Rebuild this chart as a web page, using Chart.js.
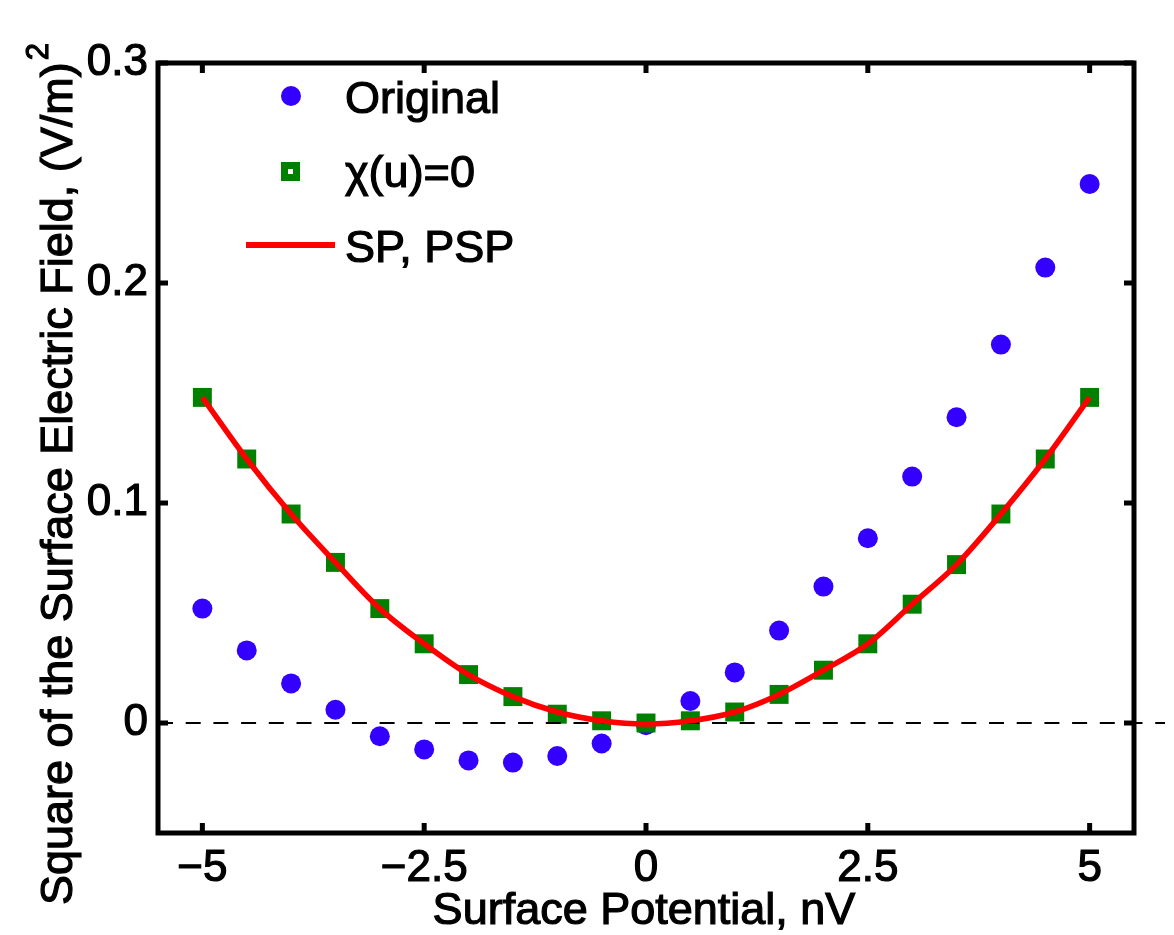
<!DOCTYPE html>
<html>
<head>
<meta charset="utf-8">
<script src="https://cdn.jsdelivr.net/npm/chart.js@4.4.0/dist/chart.umd.min.js"></script>
<style>
  body { margin: 0; background: #fff; }
  #wrap { width: 1174px; height: 935px; }
</style>
</head>
<body>
<div id="wrap"><canvas id="plot" width="1174" height="935"></canvas></div>
<script>
// surface potential (nV)
const potential = [-5, -4.5, -4, -3.5, -3, -2.5, -2, -1.5, -1, -0.5, 0, 0.5, 1, 1.5, 2, 2.5, 3, 3.5, 4, 4.5, 5];
// square of the surface electric field
const original = [0.052, 0.033, 0.018, 0.006, -0.006, -0.012, -0.017, -0.018, -0.015, -0.0093, -0.001, 0.010, 0.023, 0.042, 0.062, 0.084, 0.112, 0.139, 0.172, 0.207, 0.245];
const chiZero = [0.148, 0.120, 0.095, 0.073, 0.052, 0.036, 0.022, 0.012, 0.004, 0.001, 0, 0.001, 0.005, 0.013, 0.024, 0.036, 0.054, 0.072, 0.095, 0.120, 0.148];
const spPsp = [0.148, 0.120, 0.095, 0.073, 0.052, 0.036, 0.022, 0.012, 0.005, 0.001, -0.0005, 0.001, 0.005, 0.013, 0.024, 0.036, 0.054, 0.072, 0.095, 0.120, 0.148];
const zeroLineX = [-5.5, 5.85];

const xTicks = [-5, -2.5, 0, 2.5, 5];
const yTicks = [0, 0.1, 0.2, 0.3];
const legendNames = ["Original", "\u03c7(u)=0", "SP, PSP"];
const xTitle = "Surface Potential, nV";
const yTitle = "Square of the Surface Electric Field, (V/m)";

const FONT = "'Liberation Sans', Arial, Helvetica, sans-serif";
const BLUE = "#3300ff";
const GREEN = "#008000";
const RED = "#ff0000";

const pts = (ys) => potential.map((x, i) => ({ x: x, y: ys[i] }));

function heavyText(ctx, s, x, y) {
  ctx.strokeText(s, x, y);
  ctx.fillText(s, x, y);
}

// box, inward ticks, legend and axis titles
const decor = {
  id: "decor",
  afterDraw(chart) {
    const ctx = chart.ctx;
    const a = chart.chartArea;
    const xs = chart.scales.x;
    const ys = chart.scales.y;
    ctx.save();
    ctx.strokeStyle = "#000";
    ctx.lineWidth = 5;
    ctx.lineCap = "butt";
    ctx.strokeRect(a.left, a.top, a.right - a.left, a.bottom - a.top);
    const tl = 10;
    ctx.beginPath();
    xTicks.forEach((v) => {
      const px = xs.getPixelForValue(v);
      ctx.moveTo(px, a.bottom); ctx.lineTo(px, a.bottom - tl);
      ctx.moveTo(px, a.top); ctx.lineTo(px, a.top + tl);
    });
    yTicks.forEach((v) => {
      const py = ys.getPixelForValue(v);
      ctx.moveTo(a.left, py); ctx.lineTo(a.left + tl, py);
      ctx.moveTo(a.right, py); ctx.lineTo(a.right - tl, py);
    });
    ctx.stroke();

    // legend
    ctx.fillStyle = BLUE;
    ctx.beginPath();
    ctx.arc(291, 96, 10, 0, Math.PI * 2);
    ctx.fill();
    ctx.fillStyle = GREEN;
    ctx.fillRect(281, 162, 19, 19);
    ctx.fillStyle = "#fff";
    ctx.fillRect(288, 169, 5, 5);
    ctx.strokeStyle = RED;
    ctx.lineWidth = 6;
    ctx.beginPath();
    ctx.moveTo(246, 245); ctx.lineTo(335, 245);
    ctx.stroke();
    ctx.fillStyle = "#000";
    ctx.strokeStyle = "#000";
    ctx.lineWidth = 1.2;
    ctx.font = "45px " + FONT;
    ctx.textAlign = "left";
    ctx.textBaseline = "alphabetic";
    heavyText(ctx, legendNames[0], 345, 113);
    heavyText(ctx, legendNames[1], 345, 187);
    heavyText(ctx, legendNames[2], 345, 262);

    // x title
    ctx.textAlign = "center";
    heavyText(ctx, xTitle, 644, 924);

    // y title with superscript
    ctx.translate(72, 905);
    ctx.rotate(-Math.PI / 2);
    ctx.textAlign = "left";
    heavyText(ctx, yTitle, 0, 0);
    const w = ctx.measureText(yTitle).width;
    ctx.font = "31px " + FONT;
    heavyText(ctx, "2", w + 2, -24);
    ctx.restore();
  }
};

new Chart(document.getElementById("plot"), {
  type: "scatter",
  data: {
    datasets: [
      {
        label: legendNames[0],
        data: pts(original),
        pointStyle: "circle",
        pointRadius: 10,
        pointBackgroundColor: BLUE,
        pointBorderWidth: 0,
        showLine: false,
        order: 4
      },
      {
        label: legendNames[1],
        data: pts(chiZero),
        pointStyle: "rect",
        pointRadius: 13.4,
        pointBackgroundColor: GREEN,
        pointBorderWidth: 0,
        showLine: false,
        order: 3
      },
      {
        label: "zero",
        data: zeroLineX.map((x) => ({ x: x, y: 0 })),
        showLine: true,
        borderColor: "#000",
        borderWidth: 2,
        borderDash: [15, 12.7],
        pointRadius: 0,
        clip: false,
        order: 2
      },
      {
        label: legendNames[2],
        data: pts(spPsp),
        showLine: true,
        borderColor: RED,
        borderWidth: 5.5,
        pointRadius: 0,
        cubicInterpolationMode: "monotone",
        order: 1
      }
    ]
  },
  options: {
    responsive: false,
    devicePixelRatio: 1,
    animation: false,
    layout: { padding: { top: 63, right: 40, left: 0, bottom: 0 } },
    plugins: { legend: { display: false }, tooltip: { enabled: false } },
    scales: {
      x: {
        type: "linear",
        min: -5.5,
        max: 5.5,
        afterFit: (s) => { s.height = 102; },
        afterBuildTicks: (s) => { s.ticks = xTicks.map((v) => ({ value: v })); },
        grid: { display: false, drawTicks: false },
        border: { display: false },
        ticks: {
          padding: 9,
          color: "#000",
          textStrokeColor: "#000",
          textStrokeWidth: 1.2,
          font: { family: FONT, size: 44 },
          maxRotation: 0,
          autoSkip: false,
          callback: (v) => (v < 0 ? "\u2212" + Math.abs(v) : String(v))
        }
      },
      y: {
        type: "linear",
        min: -0.05,
        max: 0.3,
        afterFit: (s) => { s.width = 158; },
        afterBuildTicks: (s) => { s.ticks = yTicks.map((v) => ({ value: v })); },
        grid: { display: false, drawTicks: false },
        border: { display: false },
        ticks: {
          padding: 10,
          color: "#000",
          textStrokeColor: "#000",
          textStrokeWidth: 1.2,
          font: { family: FONT, size: 44 },
          autoSkip: false,
          callback: (v) => (v === 0 ? "0" : v.toFixed(1))
        }
      }
    }
  },
  plugins: [decor]
});
</script>
</body>
</html>
